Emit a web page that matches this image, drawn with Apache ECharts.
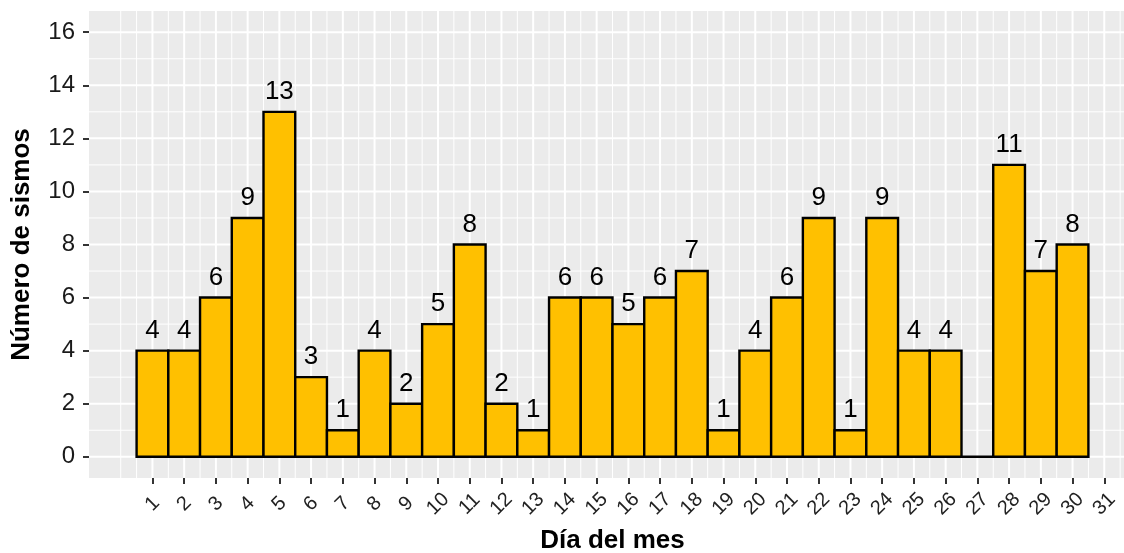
<!DOCTYPE html>
<html><head><meta charset="utf-8">
<script src="https://cdn.jsdelivr.net/npm/echarts@6/dist/echarts.min.js"></script>
<style>html,body{margin:0;padding:0;background:#fff}#c{width:1124px;height:553px}</style>
</head><body><div id="c"></div>
<script>
const days = [1,2,3,4,5,6,7,8,9,10,11,12,13,14,15,16,17,18,19,20,21,22,23,24,25,26,27,28,29,30];
const counts = [4,4,6,9,13,3,1,4,2,5,8,2,1,6,6,5,6,7,1,4,6,9,1,9,4,4,0,11,7,8];
const xTickLabels = [1,2,3,4,5,6,7,8,9,10,11,12,13,14,15,16,17,18,19,20,21,22,23,24,25,26,27,28,29,30,31];
const yTickLabels = [0,2,4,6,8,10,12,14,16];
const xMinorGrid = [0,0.5,1.5,2.5,3.5,4.5,5.5,6.5,7.5,8.5,9.5,10.5,11.5,12.5,13.5,14.5,15.5,16.5,17.5,18.5,19.5,20.5,21.5,22.5,23.5,24.5,25.5,26.5,27.5,28.5,29.5,30.5,31.5];
const yMinorGrid = [1,3,5,7,9,11,13,15];

const FONT = 'Liberation Sans, Arial, Helvetica, sans-serif';
const gridData = [];
xMinorGrid.forEach(v => gridData.push([0, v, 0]));
xTickLabels.forEach(v => gridData.push([0, v, 1]));
yMinorGrid.forEach(v => gridData.push([1, v, 0]));
yTickLabels.forEach(v => gridData.push([1, v, 1]));

const chart = echarts.init(document.getElementById('c'), null, {renderer: 'canvas'});
chart.setOption({
  animation: false,
  backgroundColor: '#ffffff',
  grid: {left: 89, right: -12, top: 11, bottom: 75, containLabel: false, outerBoundsMode: 'none',
         show: true, backgroundColor: '#EBEBEB', borderWidth: 0},
  xAxis: {
    type: 'value', min: -1, max: 32,
    axisLine: {show: false, onZero: false}, splitLine: {show: false},
    axisTick: {show: true, customValues: xTickLabels, length: 6, lineStyle: {color: '#333', width: 2}},
    axisLabel: {customValues: xTickLabels, rotate: 45, align: 'center', verticalAlign: 'middle',
                margin: 26, fontSize: 20, color: '#222', fontFamily: FONT},
    name: 'Día del mes', nameLocation: 'middle', nameGap: 50,
    nameTextStyle: {fontSize: 26, fontWeight: 'bold', color: '#000', fontFamily: FONT}
  },
  yAxis: {
    type: 'value', min: -0.8, max: 16.8,
    axisLine: {show: false, onZero: false}, splitLine: {show: false},
    axisTick: {show: true, customValues: yTickLabels, length: 6, lineStyle: {color: '#333', width: 2}},
    axisLabel: {customValues: yTickLabels, margin: 14, fontSize: 24, color: '#1a1a1a', fontFamily: FONT},
    name: 'Número de sismos', nameLocation: 'middle', nameGap: 54, nameRotate: 90,
    nameTextStyle: {fontSize: 26, fontWeight: 'bold', color: '#000', fontFamily: FONT}
  },
  series: [
    {
      type: 'custom', z: 1, silent: true, clip: true,
      data: gridData,
      renderItem(params, api) {
        const cs = params.coordSys;
        const o = api.value(0), v = api.value(1), major = api.value(2);
        let shape;
        if (o === 0) {
          const p = api.coord([v, 0]);
          shape = {x1: p[0], y1: cs.y, x2: p[0], y2: cs.y + cs.height};
        } else {
          const p = api.coord([0, v]);
          shape = {x1: cs.x, y1: p[1], x2: cs.x + cs.width, y2: p[1]};
        }
        return {type: 'line', shape, style: {stroke: '#ffffff', lineWidth: major ? 2 : 1}};
      }
    },
    {
      type: 'custom', z: 2, clip: false,
      data: days.map((d, i) => [d, counts[i]]),
      renderItem(params, api) {
        const d = api.value(0), c = api.value(1);
        const p0 = api.coord([d - 0.5, c]);
        const p1 = api.coord([d + 0.5, 0]);
        const children = [];
        if (c > 0) {
          children.push({type: 'rect',
            shape: {x: p0[0], y: p0[1], width: p1[0] - p0[0], height: p1[1] - p0[1]},
            style: {fill: '#FFC000', stroke: '#000', lineWidth: 2.4}});
          children.push({type: 'text',
            style: {x: (p0[0] + p1[0]) / 2, y: p0[1] - 7, text: String(c),
                    font: '26px ' + FONT, fill: '#000', align: 'center', verticalAlign: 'bottom'}});
        } else {
          children.push({type: 'line', shape: {x1: p0[0], y1: p1[1], x2: p1[0], y2: p1[1]},
            style: {stroke: '#000', lineWidth: 2.4}});
        }
        return {type: 'group', children};
      }
    }
  ]
});
</script></body></html>
